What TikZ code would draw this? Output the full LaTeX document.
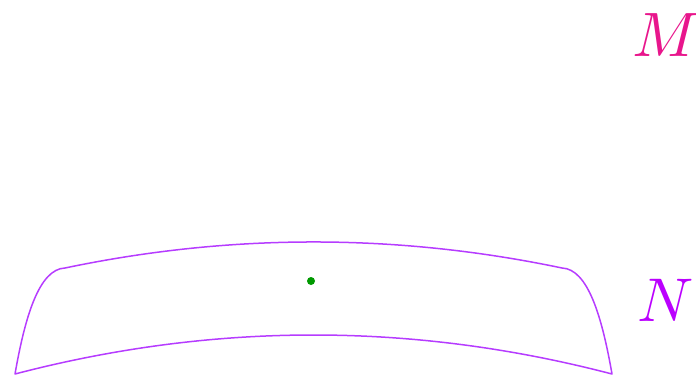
\documentclass[tikz,border=0pt]{standalone}
\usetikzlibrary{calc}
\definecolor{labelM}{HTML}{E8168C}
\definecolor{labelN}{HTML}{BB00FF}
\definecolor{surf}{HTML}{B63CFF}
\definecolor{pt}{HTML}{009900}

\begin{document}
\begin{tikzpicture}[line width=1.5bp, line cap=round, line join=round, x=1bp, y=1bp]
  \useasboundingbox (0,0) rectangle (696,377);
  \coordinate (bl) at (15,3);
  \coordinate (br) at (612,3);
  \coordinate (tl) at (65,109);
  \coordinate (tr) at (562,109);
  \draw[surf]
    (bl) .. controls (214,55) and (413,55) .. (br)
         .. controls (602,60) and (588,108) .. (tr)
         .. controls (396.3,143.7) and (230.7,143.7) .. (tl)
         .. controls (39,108) and (25,60) .. (bl);
  \fill[pt] (311,96) circle (4);
  \node[labelM, scale=6.3] (M) at (666,342) {$M$};
  \node[labelN, scale=6.2] (N) at (666,77) {$N$};
\end{tikzpicture}
\end{document}
